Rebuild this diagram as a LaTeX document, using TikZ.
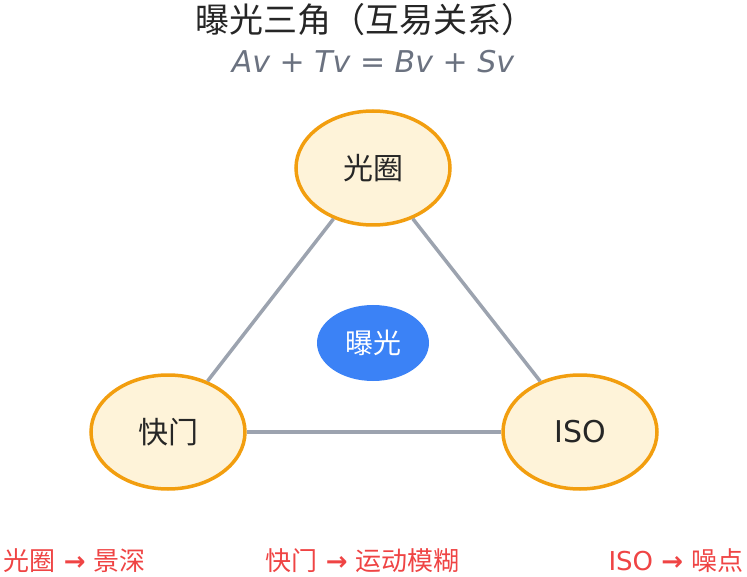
\documentclass[tikz,border=0pt]{standalone}
\usepackage{fontspec}
\setmainfont{DejaVu Sans}
\newfontfamily\cjk{Noto Sans CJK SC}
\usetikzlibrary{shapes.geometric}
\definecolor{cream}{HTML}{FEF3D9}
\definecolor{org}{HTML}{F29E0F}
\definecolor{gline}{HTML}{9CA3AF}
\definecolor{blu}{HTML}{3B82F6}
\definecolor{fgray}{HTML}{6B7280}
\definecolor{red}{HTML}{EF4444}
\begin{document}
\begin{tikzpicture}[x=1pt,y=-1pt,
 el/.style={ellipse,draw=org,line width=3.5pt,fill=cream,minimum width=154pt,minimum height=114pt,font=\fontsize{30}{30}\selectfont\cjk,text=black!85},
 ln/.style={draw=gline,line width=3.5pt},
 bt/.style={text=red,font=\fontsize{26}{26}\selectfont}]
\useasboundingbox (0,0) rectangle (747,577);
\node[font=\fontsize{34}{34}\selectfont\cjk,text=black!85] (title) at (365,20) {曝光三角（互易关系）};
\node[font=\fontsize{30}{30}\selectfont\itshape,text=fgray] (formula) at (373,62) {Av + Tv = Bv + Sv};
\node[el] (A) at (373,168) {光圈};
\node[el] (T) at (168,432) {快门};
\node[el,font=\fontsize{30}{30}\selectfont] (I) at (580,432) {ISO};
\draw[ln] (A) -- (T);
\draw[ln] (A) -- (I);
\draw[ln] (T) -- (I);
\node[ellipse,fill=blu,minimum width=112pt,minimum height=76pt,text=white,font=\fontsize{28}{28}\selectfont\cjk] (E) at (373,343) {曝光};
\node[bt,anchor=west] (b1) at (0,561) {{\cjk 光圈} \textbf{→} {\cjk 景深}};
\node[bt,anchor=west] (b2) at (262,561) {{\cjk 快门} \textbf{→} {\cjk 运动模糊}};
\node[bt,anchor=east] (b3) at (747,561) {ISO \textbf{→} {\cjk 噪点}};
\end{tikzpicture}
\end{document}
